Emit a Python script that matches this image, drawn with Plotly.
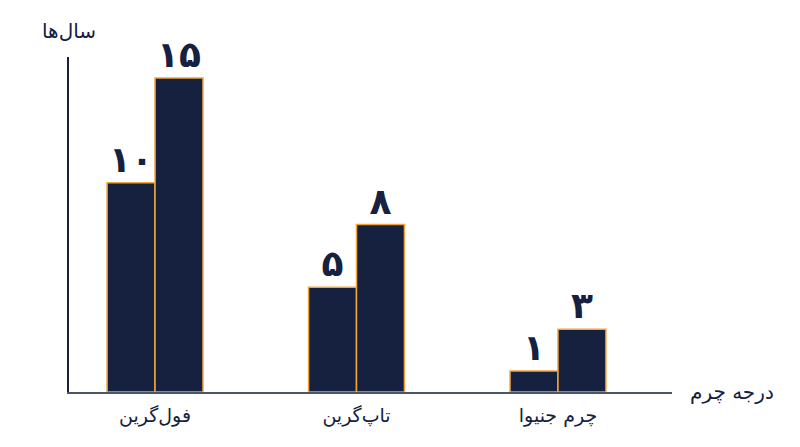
import plotly.graph_objects as go

categories = ["فول‌گرین", "تاپ‌گرین", "چرم جنیوا"]
series_a = [10, 5, 1]
series_b = [15, 8, 3]

def fa_digits(n):
    return str(n).translate(str.maketrans("0123456789", "۰۱۲۳۴۵۶۷۸۹"))

bar_color = "#15213f"
edge_color = "#f2a43a"
font_family = "DejaVu Sans"

fig = go.Figure()
for vals in (series_a, series_b):
    fig.add_trace(go.Bar(
        x=categories, y=vals,
        text=[fa_digits(v) for v in vals],
        textposition="outside",
        textfont=dict(size=36, color="#15213f", family=font_family, weight="bold"),
        cliponaxis=False,
        marker=dict(color=bar_color, line=dict(color=edge_color, width=1.5)),
        showlegend=False,
    ))

fig.update_layout(
    width=800, height=447,
    margin=dict(l=61, r=136, t=49, b=63),
    paper_bgcolor="white", plot_bgcolor="white",
    barmode="group", bargap=0.524, bargroupgap=0,
    font=dict(family=font_family, color="#15213f"),
    xaxis=dict(range=[-0.427, 2.566], showline=True, linecolor="#4b5563", linewidth=2,
               ticks="", showgrid=False, zeroline=False, ticklabelstandoff=5,
               tickfont=dict(size=19, color="#15213f", family=font_family)),
    yaxis=dict(range=[0, 16], showline=True, linecolor="#15213f", linewidth=1.5,
               showticklabels=False, ticks="", showgrid=False, zeroline=False),
    annotations=[
        dict(text="سال‌ها", xref="paper", yref="paper", x=0, y=1, xanchor="center",
             yanchor="bottom", yshift=12, showarrow=False,
             font=dict(size=20, color="#15213f", family=font_family)),
        dict(text="درجه چرم", xref="paper", yref="paper", x=1, y=0, xanchor="left",
             yanchor="middle", xshift=16, showarrow=False,
             font=dict(size=20, color="#15213f", family=font_family)),
    ],
)

fig.write_html("out.html")
